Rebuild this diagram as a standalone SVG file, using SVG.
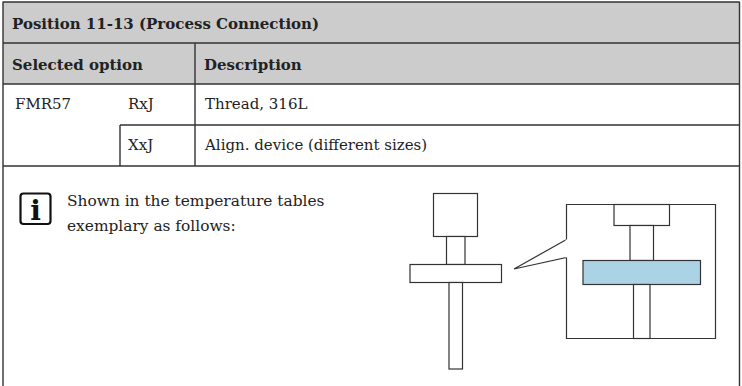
<svg xmlns="http://www.w3.org/2000/svg" width="742" height="386" viewBox="0 0 742 386">
<style>
.grid{stroke:#333;stroke-width:1.4;fill:none}
.hdr{fill:#cccccc}
.t{font-family:"DejaVu Serif","Liberation Serif",serif;font-size:15px;fill:#222}
.n{font-size:15.4px}
.b{font-weight:bold}
.d{fill:#fff;stroke:#333;stroke-width:1.2}
</style>
<rect width="742" height="386" fill="#fff"/>
<g id="table">
<rect class="hdr" x="3" y="2" width="736" height="82"/>
<path class="grid" d="M3 1.5V386M739.5 1.5V386M3 2H739.5M3 43H739.5M3 84H739.5M120 125H739.5M3 166H739.5M195 43V166M120 125V166"/>
</g>
<g id="texts">
<text class="t b" x="12" y="29">Position 11-13 (Process Connection)</text>
<text class="t b" x="12" y="70">Selected option</text>
<text class="t b" x="204" y="70">Description</text>
<text class="t" x="15" y="109">FMR57</text>
<text class="t" x="128" y="109">RxJ</text>
<text class="t" x="205" y="109">Thread, 316L</text>
<text class="t" x="128" y="150">XxJ</text>
<text class="t" x="205" y="150">Align. device (different sizes)</text>
</g>
<g id="note">
<rect x="20.5" y="193.5" width="30" height="30.5" rx="3" fill="none" stroke="#111" stroke-width="2.2"/>
<text x="35.5" y="220" text-anchor="middle" font-family="DejaVu Serif,serif" font-weight="bold" font-size="28" fill="#111">i</text>
<text class="t n" x="67" y="206">Shown in the temperature tables</text>
<text class="t n" x="67" y="231">exemplary as follows:</text>
</g>
<g id="drawing">
<rect class="d" x="433.5" y="193.5" width="44" height="43"/>
<rect class="d" x="446.5" y="236.5" width="18.5" height="28"/>
<rect class="d" x="410" y="264.5" width="91.5" height="18"/>
<rect class="d" x="449" y="282.5" width="13.5" height="86.5"/>
<path class="d" d="M566.5 239.5L514 269L566.5 257.5V338.5H715.5V204.5H566.5Z" style="fill:none"/>
<path d="M566.5 239.5V257.5" stroke="#fff" stroke-width="2"/>
<rect class="d" x="614" y="204.5" width="55.5" height="21"/>
<rect class="d" x="630" y="225.5" width="23.5" height="35"/>
<rect class="d" x="583" y="260.5" width="117.5" height="24" style="fill:#acd3e5"/>
<rect class="d" x="633.5" y="284.5" width="16.5" height="54"/>
</g>
</svg>
